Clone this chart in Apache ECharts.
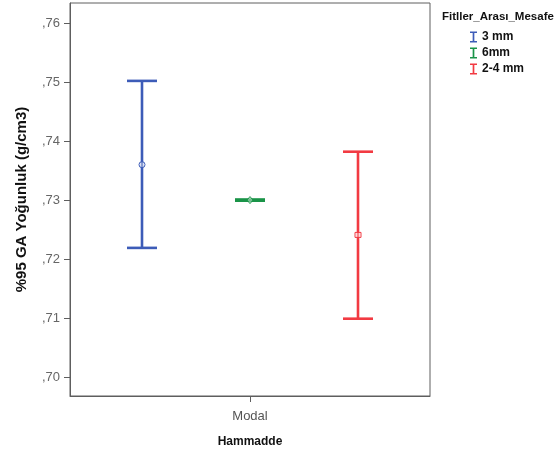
<!DOCTYPE html>
<html>
<head>
<meta charset="utf-8">
<script src="https://cdn.jsdelivr.net/npm/echarts@6/dist/echarts.min.js"></script>
<style>html,body{margin:0;padding:0;background:#fff}#c{width:555px;height:455px}</style>
</head>
<body>
<div id="c"></div>
<script>
var categories = ['Modal'];
var groups = ['3 mm', '6mm', '2-4 mm'];
var lowerCI = [0.7219, 0.7299, 0.7099];
var upperCI = [0.7502, 0.7301, 0.7382];
var means = [0.7360, 0.7300, 0.7241];
var yTicks = [0.70, 0.71, 0.72, 0.73, 0.74, 0.75, 0.76];
var colors = ['#3d5cb8', '#1a9448', '#f23a42'];
var markerSymbols = ['circle', 'diamond', 'rect'];
var legendTitle = 'Fitller_Arası_Mesafe';
var xTitle = 'Hammadde';
var yTitle = '%95 GA Yoğunluk (g/cm3)';

var offsetFrac = [-0.3, 0, 0.3];
var ibeam = 'path://M0,0 H10 V2.4 H6.2 V13.6 H10 V16 H0 V13.6 H3.8 V2.4 H0 Z';

var series = [];
groups.forEach(function (g, i) {
  series.push({
    name: g,
    type: 'custom',
    data: [[categories[0], lowerCI[i], upperCI[i]]],
    itemStyle: { color: colors[i] },
    renderItem: function (params, api) {
      var lo = api.coord([api.value(0), api.value(1)]);
      var hi = api.coord([api.value(0), api.value(2)]);
      var band = api.size([1, 0])[0];
      var x = lo[0] + offsetFrac[i] * band;
      var hw = 15;
      var st = { stroke: colors[i], lineWidth: 2.6, lineCap: 'butt' };
      return {
        type: 'group',
        children: [
          { type: 'line', shape: { x1: x, y1: hi[1], x2: x, y2: lo[1] }, style: st },
          { type: 'line', shape: { x1: x - hw, y1: hi[1], x2: x + hw, y2: hi[1] }, style: st },
          { type: 'line', shape: { x1: x - hw, y1: lo[1], x2: x + hw, y2: lo[1] }, style: st }
        ]
      };
    },
    z: 2
  });
});
groups.forEach(function (g, i) {
  series.push({
    name: g,
    type: 'custom',
    data: [[categories[0], means[i]]],
    renderItem: function (params, api) {
      var p = api.coord([api.value(0), api.value(1)]);
      var band = api.size([1, 0])[0];
      var x = p[0] + offsetFrac[i] * band;
      var s = 3;
      if (markerSymbols[i] === 'circle') {
        return { type: 'circle', shape: { cx: x, cy: p[1], r: s }, style: { fill: 'rgba(255,255,255,0.4)', stroke: colors[i], lineWidth: 1 } };
      } else if (markerSymbols[i] === 'diamond') {
        return { type: 'polygon', shape: { points: [[x, p[1] - s - 0.5], [x + s, p[1]], [x, p[1] + s + 0.5], [x - s, p[1]]] }, style: { fill: 'rgba(255,255,255,0.4)', stroke: colors[i], lineWidth: 1 } };
      } else {
        return { type: 'rect', shape: { x: x - s, y: p[1] - s + 0.5, width: 2 * s, height: 2 * s - 1 }, style: { fill: 'rgba(255,255,255,0.4)', stroke: colors[i], lineWidth: 1 } };
      }
    },
    z: 3
  });
});

var chart = echarts.init(document.getElementById('c'), null, { renderer: 'canvas' });
chart.setOption({
  animation: false,
  backgroundColor: '#fff',
  title: {
    text: legendTitle,
    left: 437, top: 6,
    textStyle: { fontFamily: 'Liberation Sans, Arial', fontSize: 11.5, fontWeight: 'bold', color: '#111' }
  },
  legend: {
    data: groups.map(function (g, i) { return { name: g, icon: ibeam, itemStyle: { color: colors[i] } }; }),
    orient: 'vertical',
    left: 465, top: 26,
    itemWidth: 7, itemHeight: 12, itemGap: 4,
    selectedMode: false,
    textStyle: { fontFamily: 'Liberation Sans, Arial', fontSize: 12, fontWeight: 'bold', color: '#111', padding: [0, 0, 0, 0] }
  },
  grid: {
    left: 70, right: 125, top: 3, bottom: 59,
    show: true, borderColor: '#5e5e5e', borderWidth: 1, backgroundColor: '#fff'
  },
  xAxis: {
    type: 'category',
    data: categories,
    boundaryGap: true,
    name: xTitle,
    nameLocation: 'middle',
    nameGap: 40,
    nameTextStyle: { fontFamily: 'Liberation Sans, Arial', fontSize: 12, fontWeight: 'bold', color: '#111' },
    axisLine: { show: true, lineStyle: { color: '#5e5e5e', width: 1 } },
    axisTick: { show: true, alignWithLabel: true, length: 6, lineStyle: { color: '#5e5e5e' } },
    axisLabel: { margin: 14, fontFamily: 'Liberation Sans, Arial', fontSize: 13, color: '#555' },
    splitLine: { show: false }
  },
  yAxis: {
    type: 'value',
    min: 0.6968, max: 0.7634,
    name: yTitle,
    nameLocation: 'middle',
    nameGap: 41,
    nameRotate: 90,
    nameTextStyle: { fontFamily: 'Liberation Sans, Arial', fontSize: 15, fontWeight: 'bold', color: '#111' },
    axisLine: { show: true, lineStyle: { color: '#5e5e5e', width: 1 } },
    axisTick: { show: true, length: 6, customValues: yTicks, lineStyle: { color: '#5e5e5e' } },
    axisLabel: {
      customValues: yTicks,
      margin: 10,
      fontFamily: 'Liberation Sans, Arial', fontSize: 13, color: '#666',
      formatter: function (v) { return v.toFixed(2).replace(/^0\./, ','); }
    },
    splitLine: { show: false }
  },
  series: series
});
</script>
</body>
</html>
